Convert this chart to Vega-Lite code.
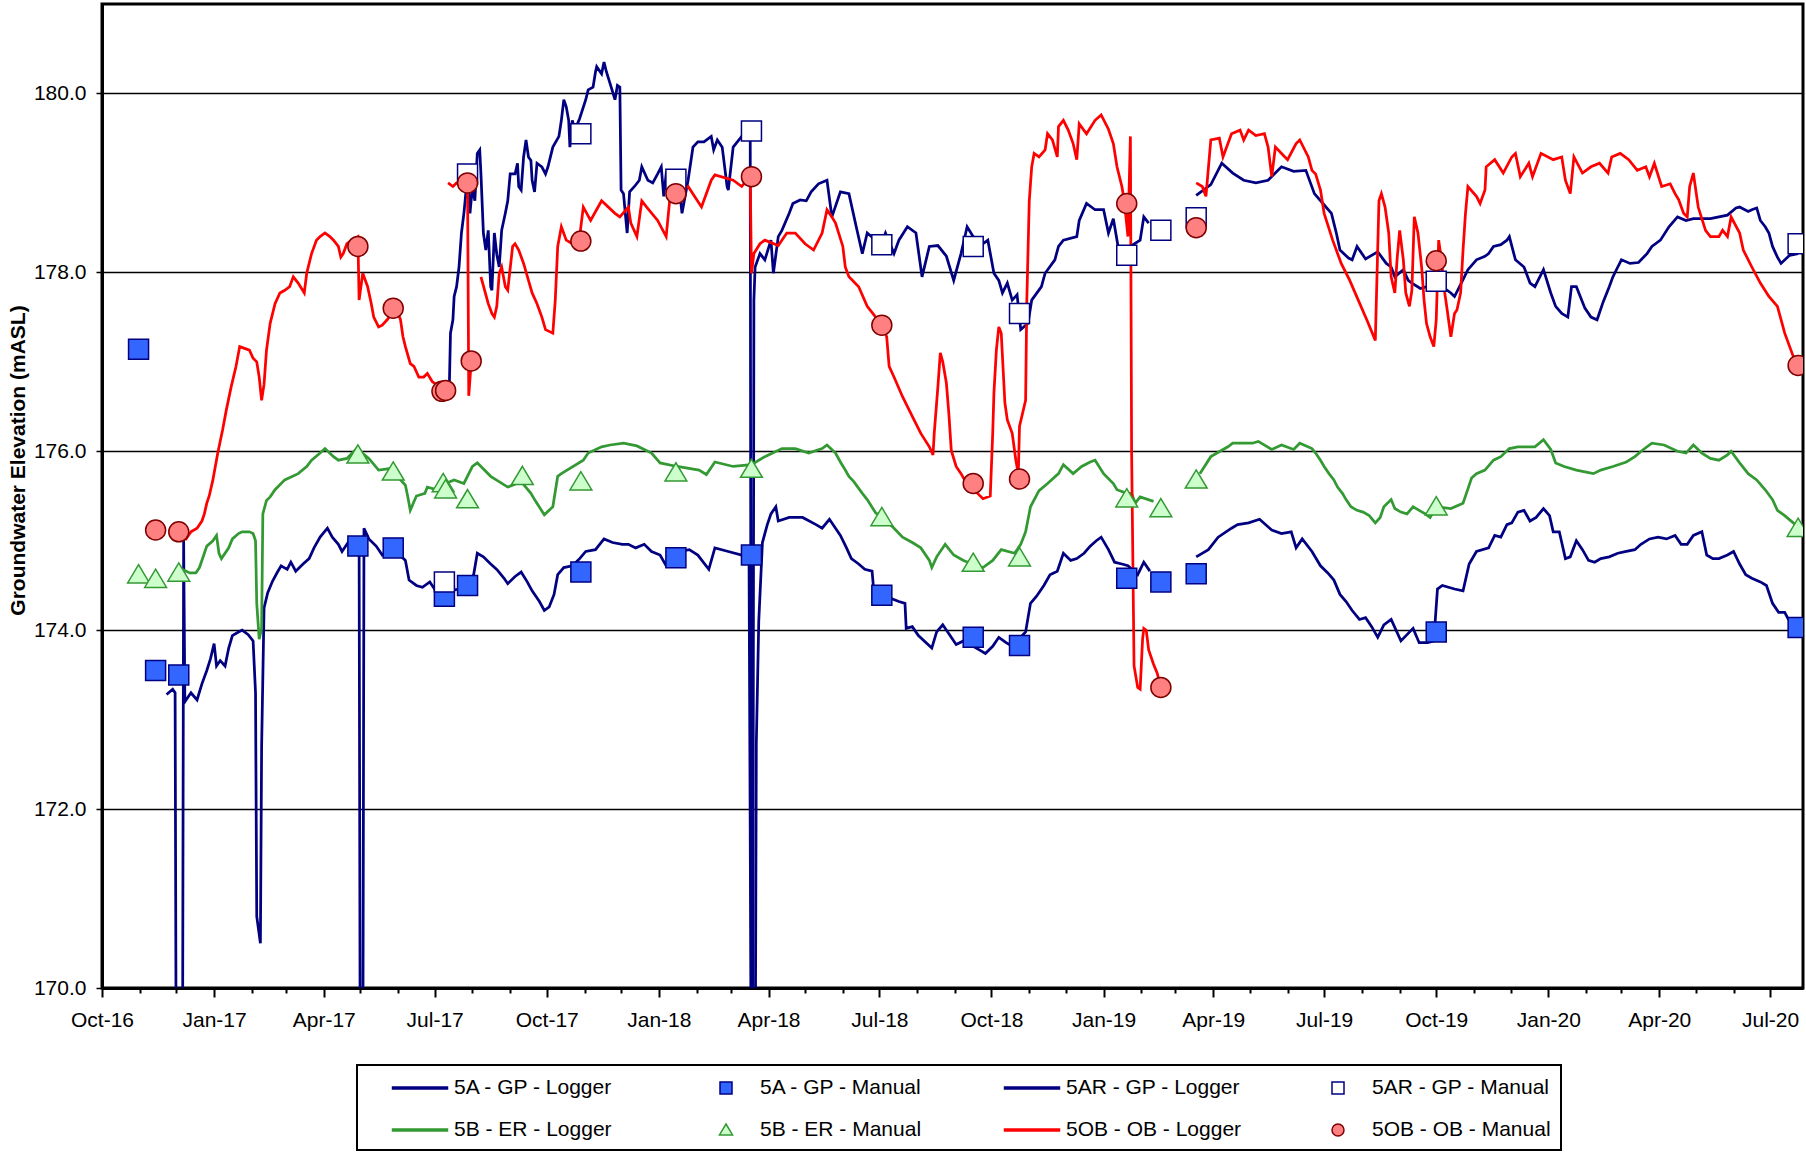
{
  "$schema": "https://vega.github.io/schema/vega-lite/v6.json",
  "width": 1701,
  "height": 984,
  "autosize": {"type": "none"},
  "padding": {"left": 102, "top": 4, "right": 3, "bottom": 170},
  "background": "white",
  "config": {
    "font": "Liberation Sans",
    "view": {"stroke": "black", "strokeWidth": 3},
    "legend": {"symbolFillColor": "white", "strokeWidth": 2}
  },
  "datasets": {
    "a5": [
      {"p":1,"d":"2016-11-23","v":173.28},{"p":1,"d":"2016-11-28","v":173.34},{"p":1,"d":"2016-11-30","v":173.3},{"p":1,"d":"2016-12-01","v":168.5},{"p":1,"d":"2016-12-06","v":168.5},{"p":1,"d":"2016-12-07","v":175.0},{"p":1,"d":"2016-12-08","v":173.2},{"p":1,"d":"2016-12-13","v":173.3},{"p":1,"d":"2016-12-18","v":173.22},{"p":1,"d":"2016-12-22","v":173.4},{"p":1,"d":"2016-12-26","v":173.55},{"p":1,"d":"2016-12-29","v":173.68},
      {"p":1,"d":"2017-01-01","v":173.85},{"p":1,"d":"2017-01-03","v":173.6},{"p":1,"d":"2017-01-06","v":173.66},{"p":1,"d":"2017-01-10","v":173.6},{"p":1,"d":"2017-01-13","v":173.8},{"p":1,"d":"2017-01-16","v":173.94},{"p":1,"d":"2017-01-21","v":173.98},{"p":1,"d":"2017-01-24","v":174.0},{"p":1,"d":"2017-01-29","v":173.95},{"p":1,"d":"2017-02-02","v":173.88},{"p":1,"d":"2017-02-04","v":173.3},{"p":1,"d":"2017-02-05","v":170.8},{"p":1,"d":"2017-02-08","v":170.5},{"p":1,"d":"2017-02-09","v":172.7},{"p":1,"d":"2017-02-11","v":174.25},{"p":1,"d":"2017-02-14","v":174.42},{"p":1,"d":"2017-02-18","v":174.55},{"p":1,"d":"2017-02-22","v":174.65},{"p":1,"d":"2017-02-25","v":174.72},
      {"p":1,"d":"2017-03-02","v":174.68},{"p":1,"d":"2017-03-05","v":174.76},{"p":1,"d":"2017-03-09","v":174.66},{"p":1,"d":"2017-03-15","v":174.74},{"p":1,"d":"2017-03-20","v":174.8},{"p":1,"d":"2017-03-24","v":174.92},{"p":1,"d":"2017-03-29","v":175.04},{"p":1,"d":"2017-04-04","v":175.14},{"p":1,"d":"2017-04-08","v":175.04},{"p":1,"d":"2017-04-13","v":174.96},{"p":1,"d":"2017-04-16","v":174.88},{"p":1,"d":"2017-04-20","v":174.96},{"p":1,"d":"2017-04-23","v":175.02},{"p":1,"d":"2017-04-27","v":174.96},{"p":1,"d":"2017-04-30","v":175.0},{"p":1,"d":"2017-05-01","v":168.5},{"p":1,"d":"2017-05-03","v":168.5},{"p":1,"d":"2017-05-04","v":175.14},{"p":1,"d":"2017-05-08","v":175.02},{"p":1,"d":"2017-05-14","v":174.94},{"p":1,"d":"2017-05-19","v":174.84},{"p":1,"d":"2017-05-25","v":174.9},
      {"p":1,"d":"2017-06-01","v":174.86},{"p":1,"d":"2017-06-07","v":174.78},{"p":1,"d":"2017-06-10","v":174.56},{"p":1,"d":"2017-06-16","v":174.5},{"p":1,"d":"2017-06-21","v":174.48},{"p":1,"d":"2017-06-27","v":174.54},{"p":1,"d":"2017-07-03","v":174.42},{"p":1,"d":"2017-07-08","v":174.5},{"p":1,"d":"2017-07-14","v":174.44},{"p":1,"d":"2017-07-21","v":174.46},{"p":1,"d":"2017-07-28","v":174.5},{"p":1,"d":"2017-08-02","v":174.62},{"p":1,"d":"2017-08-05","v":174.86},{"p":1,"d":"2017-08-10","v":174.82},{"p":1,"d":"2017-08-16","v":174.74},{"p":1,"d":"2017-08-21","v":174.68},{"p":1,"d":"2017-08-27","v":174.58},{"p":1,"d":"2017-08-30","v":174.52},
      {"p":1,"d":"2017-09-05","v":174.6},{"p":1,"d":"2017-09-10","v":174.65},{"p":1,"d":"2017-09-15","v":174.54},{"p":1,"d":"2017-09-19","v":174.44},{"p":1,"d":"2017-09-25","v":174.32},{"p":1,"d":"2017-09-29","v":174.22},{"p":1,"d":"2017-10-03","v":174.26},{"p":1,"d":"2017-10-07","v":174.4},{"p":1,"d":"2017-10-10","v":174.62},{"p":1,"d":"2017-10-15","v":174.7},{"p":1,"d":"2017-10-22","v":174.72},{"p":1,"d":"2017-10-28","v":174.8},{"p":1,"d":"2017-11-02","v":174.88},{"p":1,"d":"2017-11-10","v":174.9},{"p":1,"d":"2017-11-17","v":175.02},{"p":1,"d":"2017-11-24","v":174.98},{"p":1,"d":"2017-12-02","v":174.96},{"p":1,"d":"2017-12-07","v":174.96},{"p":1,"d":"2017-12-13","v":174.92},{"p":1,"d":"2017-12-20","v":174.96},{"p":1,"d":"2017-12-26","v":174.88},
      {"p":1,"d":"2018-01-02","v":174.84},{"p":1,"d":"2018-01-07","v":174.72},{"p":1,"d":"2018-01-13","v":174.76},{"p":1,"d":"2018-01-18","v":174.88},{"p":1,"d":"2018-01-26","v":174.9},{"p":1,"d":"2018-02-02","v":174.84},{"p":1,"d":"2018-02-11","v":174.68},{"p":1,"d":"2018-02-16","v":174.92},{"p":1,"d":"2018-02-27","v":174.88},{"p":1,"d":"2018-03-10","v":174.84},{"p":1,"d":"2018-03-16","v":174.84},{"p":1,"d":"2018-03-18","v":168.5},{"p":1,"d":"2018-03-21","v":168.5},{"p":1,"d":"2018-03-22","v":172.74},{"p":1,"d":"2018-03-24","v":174.1},{"p":1,"d":"2018-03-27","v":174.98},{"p":1,"d":"2018-03-31","v":175.18},{"p":1,"d":"2018-04-03","v":175.3},{"p":1,"d":"2018-04-07","v":175.38},{"p":1,"d":"2018-04-09","v":175.22},{"p":1,"d":"2018-04-18","v":175.26},{"p":1,"d":"2018-04-29","v":175.26},{"p":1,"d":"2018-05-10","v":175.18},{"p":1,"d":"2018-05-15","v":175.14},{"p":1,"d":"2018-05-21","v":175.24},{"p":1,"d":"2018-05-30","v":175.06},
      {"p":1,"d":"2018-06-04","v":174.92},{"p":1,"d":"2018-06-08","v":174.8},{"p":1,"d":"2018-06-14","v":174.74},{"p":1,"d":"2018-06-19","v":174.68},{"p":1,"d":"2018-06-25","v":174.66},{"p":1,"d":"2018-06-26","v":174.5},{"p":1,"d":"2018-07-06","v":174.38},{"p":1,"d":"2018-07-17","v":174.32},{"p":1,"d":"2018-07-22","v":174.3},{"p":1,"d":"2018-07-23","v":174.02},{"p":1,"d":"2018-07-28","v":174.04},{"p":1,"d":"2018-08-02","v":173.94},{"p":1,"d":"2018-08-13","v":173.8},{"p":1,"d":"2018-08-17","v":173.98},{"p":1,"d":"2018-08-22","v":174.06},{"p":1,"d":"2018-08-28","v":173.94},{"p":1,"d":"2018-09-02","v":173.84},{"p":1,"d":"2018-09-08","v":173.88},{"p":1,"d":"2018-09-21","v":173.78},{"p":1,"d":"2018-09-26","v":173.74},{"p":1,"d":"2018-10-02","v":173.82},{"p":1,"d":"2018-10-07","v":173.92},{"p":1,"d":"2018-10-13","v":173.86},{"p":1,"d":"2018-10-18","v":173.82},{"p":1,"d":"2018-10-29","v":173.98},
      {"p":1,"d":"2018-11-02","v":174.3},{"p":1,"d":"2018-11-07","v":174.38},{"p":1,"d":"2018-11-13","v":174.5},{"p":1,"d":"2018-11-18","v":174.62},{"p":1,"d":"2018-11-24","v":174.66},{"p":1,"d":"2018-11-29","v":174.86},{"p":1,"d":"2018-12-05","v":174.78},{"p":1,"d":"2018-12-10","v":174.8},{"p":1,"d":"2018-12-16","v":174.86},{"p":1,"d":"2018-12-21","v":174.94},{"p":1,"d":"2018-12-26","v":175.0},{"p":1,"d":"2018-12-30","v":175.04},{"p":1,"d":"2019-01-05","v":174.9},{"p":1,"d":"2019-01-10","v":174.76},{"p":1,"d":"2019-01-16","v":174.74},{"p":1,"d":"2019-01-21","v":174.72},{"p":1,"d":"2019-01-29","v":174.62},{"p":1,"d":"2019-02-03","v":174.76},{"p":1,"d":"2019-02-08","v":174.66},
      {"p":2,"d":"2019-03-18","v":174.82},{"p":2,"d":"2019-03-28","v":174.9},{"p":2,"d":"2019-04-05","v":175.04},{"p":2,"d":"2019-04-16","v":175.14},{"p":2,"d":"2019-04-21","v":175.18},{"p":2,"d":"2019-04-30","v":175.2},{"p":2,"d":"2019-05-09","v":175.24},{"p":2,"d":"2019-05-19","v":175.12},{"p":2,"d":"2019-05-27","v":175.08},{"p":2,"d":"2019-06-04","v":175.1},{"p":2,"d":"2019-06-08","v":174.92},{"p":2,"d":"2019-06-13","v":175.02},{"p":2,"d":"2019-06-21","v":174.88},{"p":2,"d":"2019-06-28","v":174.72},{"p":2,"d":"2019-07-04","v":174.64},{"p":2,"d":"2019-07-09","v":174.56},{"p":2,"d":"2019-07-14","v":174.4},{"p":2,"d":"2019-07-19","v":174.32},{"p":2,"d":"2019-07-24","v":174.22},{"p":2,"d":"2019-07-30","v":174.12},{"p":2,"d":"2019-08-04","v":174.14},{"p":2,"d":"2019-08-09","v":174.04},{"p":2,"d":"2019-08-14","v":173.92},{"p":2,"d":"2019-08-19","v":174.06},{"p":2,"d":"2019-08-25","v":174.12},{"p":2,"d":"2019-09-02","v":173.88},{"p":2,"d":"2019-09-12","v":174.02},{"p":2,"d":"2019-09-17","v":173.86},{"p":2,"d":"2019-09-24","v":173.86},{"p":2,"d":"2019-09-29","v":173.88},
      {"p":2,"d":"2019-10-02","v":174.46},{"p":2,"d":"2019-10-06","v":174.5},{"p":2,"d":"2019-10-16","v":174.46},{"p":2,"d":"2019-10-23","v":174.44},{"p":2,"d":"2019-10-28","v":174.74},{"p":2,"d":"2019-11-03","v":174.88},{"p":2,"d":"2019-11-13","v":174.92},{"p":2,"d":"2019-11-18","v":175.06},{"p":2,"d":"2019-11-23","v":175.04},{"p":2,"d":"2019-11-28","v":175.18},{"p":2,"d":"2019-12-02","v":175.2},{"p":2,"d":"2019-12-07","v":175.32},{"p":2,"d":"2019-12-12","v":175.34},{"p":2,"d":"2019-12-17","v":175.22},{"p":2,"d":"2019-12-22","v":175.26},{"p":2,"d":"2019-12-28","v":175.36},{"p":2,"d":"2020-01-02","v":175.28},{"p":2,"d":"2020-01-05","v":175.1},{"p":2,"d":"2020-01-10","v":175.1},{"p":2,"d":"2020-01-15","v":174.8},{"p":2,"d":"2020-01-19","v":174.82},{"p":2,"d":"2020-01-24","v":175.0},{"p":2,"d":"2020-01-29","v":174.9},{"p":2,"d":"2020-02-03","v":174.78},{"p":2,"d":"2020-02-08","v":174.76},{"p":2,"d":"2020-02-13","v":174.8},{"p":2,"d":"2020-02-20","v":174.82},{"p":2,"d":"2020-02-27","v":174.86},
      {"p":2,"d":"2020-03-05","v":174.88},{"p":2,"d":"2020-03-12","v":174.9},{"p":2,"d":"2020-03-17","v":174.96},{"p":2,"d":"2020-03-24","v":175.02},{"p":2,"d":"2020-03-31","v":175.04},{"p":2,"d":"2020-04-07","v":175.02},{"p":2,"d":"2020-04-14","v":175.06},{"p":2,"d":"2020-04-19","v":174.96},{"p":2,"d":"2020-04-24","v":174.96},{"p":2,"d":"2020-04-29","v":175.06},{"p":2,"d":"2020-05-06","v":175.1},{"p":2,"d":"2020-05-10","v":174.84},{"p":2,"d":"2020-05-15","v":174.8},{"p":2,"d":"2020-05-20","v":174.8},{"p":2,"d":"2020-05-27","v":174.84},{"p":2,"d":"2020-06-01","v":174.88},{"p":2,"d":"2020-06-06","v":174.74},{"p":2,"d":"2020-06-11","v":174.62},{"p":2,"d":"2020-06-16","v":174.58},{"p":2,"d":"2020-06-23","v":174.54},{"p":2,"d":"2020-06-28","v":174.5},{"p":2,"d":"2020-07-03","v":174.3},{"p":2,"d":"2020-07-08","v":174.2},{"p":2,"d":"2020-07-13","v":174.2},{"p":2,"d":"2020-07-16","v":174.12},{"p":2,"d":"2020-07-23","v":174.04}
    ],
    "ar5": [
      {"p":1,"d":"2017-07-13","v":176.69},{"p":1,"d":"2017-07-14","v":177.32},{"p":1,"d":"2017-07-16","v":177.47},{"p":1,"d":"2017-07-17","v":177.73},{"p":1,"d":"2017-07-19","v":177.84},{"p":1,"d":"2017-07-21","v":178.06},{"p":1,"d":"2017-07-23","v":178.44},{"p":1,"d":"2017-07-25","v":178.66},{"p":1,"d":"2017-07-26","v":178.8},{"p":1,"d":"2017-07-28","v":179.1},{"p":1,"d":"2017-07-30","v":178.66},{"p":1,"d":"2017-08-01","v":178.96},{"p":1,"d":"2017-08-03","v":178.8},{"p":1,"d":"2017-08-05","v":179.33},{"p":1,"d":"2017-08-07","v":179.37},{"p":1,"d":"2017-08-08","v":179.1},{"p":1,"d":"2017-08-10","v":178.44},{"p":1,"d":"2017-08-12","v":178.25},{"p":1,"d":"2017-08-14","v":178.47},{"p":1,"d":"2017-08-16","v":177.84},{"p":1,"d":"2017-08-17","v":177.8},{"p":1,"d":"2017-08-19","v":178.44},{"p":1,"d":"2017-08-21","v":178.2},{"p":1,"d":"2017-08-23","v":178.06},{"p":1,"d":"2017-08-25","v":178.47},{"p":1,"d":"2017-08-28","v":178.66},{"p":1,"d":"2017-08-30","v":178.8},
      {"p":1,"d":"2017-09-01","v":179.1},{"p":1,"d":"2017-09-05","v":179.1},{"p":1,"d":"2017-09-07","v":179.22},{"p":1,"d":"2017-09-08","v":178.96},{"p":1,"d":"2017-09-10","v":178.92},{"p":1,"d":"2017-09-12","v":179.29},{"p":1,"d":"2017-09-14","v":179.48},{"p":1,"d":"2017-09-16","v":179.29},{"p":1,"d":"2017-09-18","v":179.25},{"p":1,"d":"2017-09-19","v":179.03},{"p":1,"d":"2017-09-21","v":178.9},{"p":1,"d":"2017-09-23","v":179.22},{"p":1,"d":"2017-09-27","v":179.18},{"p":1,"d":"2017-09-30","v":179.1},{"p":1,"d":"2017-10-02","v":179.18},{"p":1,"d":"2017-10-06","v":179.4},{"p":1,"d":"2017-10-11","v":179.52},{"p":1,"d":"2017-10-13","v":179.7},{"p":1,"d":"2017-10-15","v":179.93},{"p":1,"d":"2017-10-17","v":179.85},{"p":1,"d":"2017-10-19","v":179.7},{"p":1,"d":"2017-10-20","v":179.4},{"p":1,"d":"2017-10-22","v":179.7},{"p":1,"d":"2017-10-24","v":179.59},{"p":1,"d":"2017-10-28","v":179.72},
      {"p":1,"d":"2017-11-02","v":179.93},{"p":1,"d":"2017-11-04","v":180.04},{"p":1,"d":"2017-11-08","v":180.07},{"p":1,"d":"2017-11-10","v":180.24},{"p":1,"d":"2017-11-11","v":180.3},{"p":1,"d":"2017-11-15","v":180.22},{"p":1,"d":"2017-11-17","v":180.35},{"p":1,"d":"2017-11-19","v":180.24},{"p":1,"d":"2017-11-22","v":180.11},{"p":1,"d":"2017-11-26","v":179.93},{"p":1,"d":"2017-11-28","v":180.09},{"p":1,"d":"2017-11-30","v":180.07},{"p":1,"d":"2017-12-01","v":178.92},{"p":1,"d":"2017-12-03","v":178.88},{"p":1,"d":"2017-12-04","v":178.73},{"p":1,"d":"2017-12-06","v":178.44},{"p":1,"d":"2017-12-08","v":178.9},{"p":1,"d":"2017-12-12","v":178.96},{"p":1,"d":"2017-12-16","v":179.03},{"p":1,"d":"2017-12-18","v":179.18},{"p":1,"d":"2017-12-23","v":179.03},{"p":1,"d":"2017-12-27","v":179.0},{"p":1,"d":"2017-12-31","v":179.1},
      {"p":1,"d":"2018-01-03","v":179.18},{"p":1,"d":"2018-01-05","v":178.85},{"p":1,"d":"2018-01-07","v":179.1},{"p":1,"d":"2018-01-12","v":179.03},{"p":1,"d":"2018-01-18","v":178.92},{"p":1,"d":"2018-01-20","v":178.66},{"p":1,"d":"2018-01-25","v":179.03},{"p":1,"d":"2018-01-29","v":179.4},{"p":1,"d":"2018-02-02","v":179.46},{"p":1,"d":"2018-02-07","v":179.46},{"p":1,"d":"2018-02-13","v":179.52},{"p":1,"d":"2018-02-15","v":179.37},{"p":1,"d":"2018-02-18","v":179.48},{"p":1,"d":"2018-02-22","v":179.4},{"p":1,"d":"2018-02-26","v":178.96},{"p":1,"d":"2018-02-27","v":178.92},{"p":1,"d":"2018-03-03","v":179.4},{"p":1,"d":"2018-03-10","v":179.52},{"p":1,"d":"2018-03-17","v":179.48},{"p":1,"d":"2018-03-18","v":168.5},{"p":1,"d":"2018-03-19","v":168.5},{"p":1,"d":"2018-03-20","v":177.69},{"p":1,"d":"2018-03-21","v":178.06},{"p":1,"d":"2018-03-25","v":178.21},{"p":1,"d":"2018-03-29","v":178.14},
      {"p":1,"d":"2018-04-03","v":178.36},{"p":1,"d":"2018-04-05","v":177.99},{"p":1,"d":"2018-04-09","v":178.4},{"p":1,"d":"2018-04-12","v":178.47},{"p":1,"d":"2018-04-18","v":178.66},{"p":1,"d":"2018-04-21","v":178.77},{"p":1,"d":"2018-04-27","v":178.81},{"p":1,"d":"2018-05-02","v":178.8},{"p":1,"d":"2018-05-06","v":178.9},{"p":1,"d":"2018-05-12","v":178.99},{"p":1,"d":"2018-05-19","v":179.03},{"p":1,"d":"2018-05-23","v":178.62},{"p":1,"d":"2018-05-30","v":178.9},{"p":1,"d":"2018-06-06","v":178.88},{"p":1,"d":"2018-06-12","v":178.51},{"p":1,"d":"2018-06-17","v":178.21},{"p":1,"d":"2018-06-21","v":178.44},{"p":1,"d":"2018-06-28","v":178.36},{"p":1,"d":"2018-07-02","v":178.29},{"p":1,"d":"2018-07-06","v":178.44},{"p":1,"d":"2018-07-13","v":178.21},{"p":1,"d":"2018-07-17","v":178.36},{"p":1,"d":"2018-07-24","v":178.51},{"p":1,"d":"2018-07-31","v":178.44},
      {"p":1,"d":"2018-08-05","v":177.95},{"p":1,"d":"2018-08-11","v":178.29},{"p":1,"d":"2018-08-18","v":178.3},{"p":1,"d":"2018-08-25","v":178.18},{"p":1,"d":"2018-08-31","v":177.91},{"p":1,"d":"2018-09-06","v":178.21},{"p":1,"d":"2018-09-11","v":178.51},{"p":1,"d":"2018-09-21","v":178.29},{"p":1,"d":"2018-09-28","v":178.36},{"p":1,"d":"2018-10-03","v":177.99},{"p":1,"d":"2018-10-07","v":177.91},{"p":1,"d":"2018-10-10","v":177.77},{"p":1,"d":"2018-10-14","v":177.88},{"p":1,"d":"2018-10-18","v":177.69},{"p":1,"d":"2018-10-22","v":177.75},{"p":1,"d":"2018-10-25","v":177.36},{"p":1,"d":"2018-10-31","v":177.43},{"p":1,"d":"2018-11-03","v":177.69},{"p":1,"d":"2018-11-11","v":177.84},{"p":1,"d":"2018-11-14","v":177.99},{"p":1,"d":"2018-11-22","v":178.14},{"p":1,"d":"2018-11-25","v":178.29},{"p":1,"d":"2018-11-29","v":178.36},
      {"p":1,"d":"2018-12-10","v":178.4},{"p":1,"d":"2018-12-12","v":178.58},{"p":1,"d":"2018-12-18","v":178.77},{"p":1,"d":"2018-12-25","v":178.7},{"p":1,"d":"2019-01-01","v":178.7},{"p":1,"d":"2019-01-05","v":178.44},{"p":1,"d":"2019-01-09","v":178.6},{"p":1,"d":"2019-01-14","v":178.2},{"p":1,"d":"2019-01-18","v":178.21},{"p":1,"d":"2019-01-24","v":178.3},{"p":1,"d":"2019-01-31","v":178.36},{"p":1,"d":"2019-02-03","v":178.62},{"p":1,"d":"2019-02-07","v":178.55},
      {"p":2,"d":"2019-03-18","v":178.86},{"p":2,"d":"2019-03-30","v":178.98},{"p":2,"d":"2019-04-08","v":179.22},{"p":2,"d":"2019-04-17","v":179.11},{"p":2,"d":"2019-04-26","v":179.03},{"p":2,"d":"2019-05-06","v":179.0},{"p":2,"d":"2019-05-16","v":179.03},{"p":2,"d":"2019-05-27","v":179.18},{"p":2,"d":"2019-06-06","v":179.13},{"p":2,"d":"2019-06-16","v":179.14},{"p":2,"d":"2019-06-23","v":178.88},{"p":2,"d":"2019-06-30","v":178.77},{"p":2,"d":"2019-07-07","v":178.66},{"p":2,"d":"2019-07-11","v":178.44},{"p":2,"d":"2019-07-14","v":178.25},{"p":2,"d":"2019-07-21","v":178.16},{"p":2,"d":"2019-07-24","v":178.14},{"p":2,"d":"2019-07-28","v":178.29},{"p":2,"d":"2019-08-04","v":178.15},{"p":2,"d":"2019-08-14","v":178.23},{"p":2,"d":"2019-08-21","v":178.1},{"p":2,"d":"2019-08-25","v":178.06},{"p":2,"d":"2019-08-28","v":177.95},
      {"p":2,"d":"2019-09-04","v":178.03},{"p":2,"d":"2019-09-08","v":177.91},{"p":2,"d":"2019-09-11","v":177.88},{"p":2,"d":"2019-09-18","v":177.82},{"p":2,"d":"2019-09-28","v":177.86},{"p":2,"d":"2019-10-06","v":177.84},{"p":2,"d":"2019-10-13","v":177.77},{"p":2,"d":"2019-10-16","v":177.73},{"p":2,"d":"2019-10-23","v":177.92},{"p":2,"d":"2019-10-27","v":178.03},{"p":2,"d":"2019-11-03","v":178.14},{"p":2,"d":"2019-11-10","v":178.18},{"p":2,"d":"2019-11-13","v":178.21},{"p":2,"d":"2019-11-17","v":178.29},{"p":2,"d":"2019-11-23","v":178.31},{"p":2,"d":"2019-11-28","v":178.36},{"p":2,"d":"2019-11-30","v":178.4},{"p":2,"d":"2019-12-05","v":178.14},{"p":2,"d":"2019-12-12","v":178.06},{"p":2,"d":"2019-12-17","v":177.88},{"p":2,"d":"2019-12-21","v":177.84},{"p":2,"d":"2019-12-28","v":178.03},
      {"p":2,"d":"2020-01-03","v":177.77},{"p":2,"d":"2020-01-07","v":177.62},{"p":2,"d":"2020-01-12","v":177.54},{"p":2,"d":"2020-01-17","v":177.5},{"p":2,"d":"2020-01-20","v":177.84},{"p":2,"d":"2020-01-24","v":177.84},{"p":2,"d":"2020-01-31","v":177.6},{"p":2,"d":"2020-02-05","v":177.5},{"p":2,"d":"2020-02-10","v":177.47},{"p":2,"d":"2020-02-15","v":177.67},{"p":2,"d":"2020-02-20","v":177.84},{"p":2,"d":"2020-02-23","v":177.95},{"p":2,"d":"2020-02-27","v":178.06},{"p":2,"d":"2020-03-01","v":178.14},{"p":2,"d":"2020-03-08","v":178.1},{"p":2,"d":"2020-03-15","v":178.11},{"p":2,"d":"2020-03-22","v":178.21},{"p":2,"d":"2020-03-26","v":178.29},{"p":2,"d":"2020-04-02","v":178.36},{"p":2,"d":"2020-04-09","v":178.51},{"p":2,"d":"2020-04-16","v":178.62},{"p":2,"d":"2020-04-23","v":178.58},{"p":2,"d":"2020-04-29","v":178.6},
      {"p":2,"d":"2020-05-06","v":178.6},{"p":2,"d":"2020-05-13","v":178.6},{"p":2,"d":"2020-05-20","v":178.62},{"p":2,"d":"2020-05-27","v":178.64},{"p":2,"d":"2020-06-03","v":178.72},{"p":2,"d":"2020-06-06","v":178.73},{"p":2,"d":"2020-06-13","v":178.68},{"p":2,"d":"2020-06-16","v":178.7},{"p":2,"d":"2020-06-20","v":178.72},{"p":2,"d":"2020-06-23","v":178.58},{"p":2,"d":"2020-06-27","v":178.51},{"p":2,"d":"2020-06-30","v":178.44},{"p":2,"d":"2020-07-03","v":178.29},{"p":2,"d":"2020-07-07","v":178.17},{"p":2,"d":"2020-07-10","v":178.1},{"p":2,"d":"2020-07-17","v":178.19},{"p":2,"d":"2020-07-24","v":178.21}
    ],
    "b5": [
      {"p":1,"d":"2016-12-02","v":174.62},{"p":1,"d":"2016-12-06","v":174.68},{"p":1,"d":"2016-12-12","v":174.64},{"p":1,"d":"2016-12-17","v":174.64},{"p":1,"d":"2016-12-20","v":174.7},{"p":1,"d":"2016-12-24","v":174.86},{"p":1,"d":"2016-12-26","v":174.94},{"p":1,"d":"2016-12-31","v":175.0},{"p":1,"d":"2017-01-03","v":175.06},{"p":1,"d":"2017-01-05","v":174.86},{"p":1,"d":"2017-01-07","v":174.8},{"p":1,"d":"2017-01-13","v":174.92},{"p":1,"d":"2017-01-16","v":175.02},{"p":1,"d":"2017-01-21","v":175.08},{"p":1,"d":"2017-01-24","v":175.1},{"p":1,"d":"2017-01-30","v":175.1},{"p":1,"d":"2017-02-02","v":175.08},{"p":1,"d":"2017-02-04","v":175.0},{"p":1,"d":"2017-02-05","v":174.3},{"p":1,"d":"2017-02-07","v":173.9},{"p":1,"d":"2017-02-09","v":174.02},{"p":1,"d":"2017-02-10","v":175.3},{"p":1,"d":"2017-02-13","v":175.45},{"p":1,"d":"2017-02-16","v":175.49},{"p":1,"d":"2017-02-20","v":175.57},{"p":1,"d":"2017-02-28","v":175.68},
      {"p":1,"d":"2017-03-11","v":175.75},{"p":1,"d":"2017-03-18","v":175.83},{"p":1,"d":"2017-03-22","v":175.9},{"p":1,"d":"2017-03-29","v":175.98},{"p":1,"d":"2017-04-02","v":176.03},{"p":1,"d":"2017-04-09","v":175.94},{"p":1,"d":"2017-04-13","v":175.9},{"p":1,"d":"2017-04-20","v":175.92},{"p":1,"d":"2017-04-28","v":176.03},{"p":1,"d":"2017-05-08","v":175.92},{"p":1,"d":"2017-05-16","v":175.79},{"p":1,"d":"2017-05-27","v":175.81},{"p":1,"d":"2017-06-03","v":175.68},{"p":1,"d":"2017-06-07","v":175.62},{"p":1,"d":"2017-06-09","v":175.49},{"p":1,"d":"2017-06-11","v":175.34},{"p":1,"d":"2017-06-16","v":175.5},{"p":1,"d":"2017-06-23","v":175.53},{"p":1,"d":"2017-06-25","v":175.6},{"p":1,"d":"2017-07-03","v":175.57},{"p":1,"d":"2017-07-10","v":175.64},{"p":1,"d":"2017-07-17","v":175.68},{"p":1,"d":"2017-07-25","v":175.64},
      {"p":1,"d":"2017-08-01","v":175.83},{"p":1,"d":"2017-08-05","v":175.87},{"p":1,"d":"2017-08-16","v":175.72},{"p":1,"d":"2017-08-30","v":175.6},{"p":1,"d":"2017-09-10","v":175.66},{"p":1,"d":"2017-09-18","v":175.53},{"p":1,"d":"2017-09-21","v":175.46},{"p":1,"d":"2017-09-29","v":175.29},{"p":1,"d":"2017-10-06","v":175.38},{"p":1,"d":"2017-10-10","v":175.72},{"p":1,"d":"2017-10-13","v":175.75},{"p":1,"d":"2017-10-31","v":175.9},{"p":1,"d":"2017-11-04","v":175.98},{"p":1,"d":"2017-11-15","v":176.05},{"p":1,"d":"2017-11-22","v":176.07},{"p":1,"d":"2017-12-03","v":176.09},{"p":1,"d":"2017-12-14","v":176.06},{"p":1,"d":"2017-12-26","v":175.98},{"p":1,"d":"2018-01-02","v":175.87},{"p":1,"d":"2018-01-16","v":175.83},{"p":1,"d":"2018-02-03","v":175.79},{"p":1,"d":"2018-02-09","v":175.74},{"p":1,"d":"2018-02-16","v":175.88},
      {"p":1,"d":"2018-03-03","v":175.83},{"p":1,"d":"2018-03-18","v":175.85},{"p":1,"d":"2018-03-29","v":175.94},{"p":1,"d":"2018-04-12","v":176.03},{"p":1,"d":"2018-04-23","v":176.03},{"p":1,"d":"2018-05-04","v":175.98},{"p":1,"d":"2018-05-15","v":176.03},{"p":1,"d":"2018-05-19","v":176.07},{"p":1,"d":"2018-05-26","v":175.98},{"p":1,"d":"2018-05-30","v":175.88},{"p":1,"d":"2018-06-03","v":175.79},{"p":1,"d":"2018-06-06","v":175.72},{"p":1,"d":"2018-06-10","v":175.66},{"p":1,"d":"2018-06-17","v":175.53},{"p":1,"d":"2018-06-21","v":175.46},{"p":1,"d":"2018-06-28","v":175.31},{"p":1,"d":"2018-07-03","v":175.27},{"p":1,"d":"2018-07-07","v":175.22},{"p":1,"d":"2018-07-13","v":175.14},{"p":1,"d":"2018-07-20","v":175.04},{"p":1,"d":"2018-07-28","v":174.98},
      {"p":1,"d":"2018-08-04","v":174.92},{"p":1,"d":"2018-08-11","v":174.78},{"p":1,"d":"2018-08-13","v":174.7},{"p":1,"d":"2018-08-17","v":174.82},{"p":1,"d":"2018-08-24","v":174.96},{"p":1,"d":"2018-08-31","v":174.84},{"p":1,"d":"2018-09-08","v":174.78},{"p":1,"d":"2018-09-19","v":174.72},{"p":1,"d":"2018-09-24","v":174.7},{"p":1,"d":"2018-10-02","v":174.78},{"p":1,"d":"2018-10-09","v":174.9},{"p":1,"d":"2018-10-20","v":174.86},{"p":1,"d":"2018-10-25","v":174.96},{"p":1,"d":"2018-10-29","v":175.1},{"p":1,"d":"2018-11-02","v":175.38},{"p":1,"d":"2018-11-09","v":175.56},{"p":1,"d":"2018-11-16","v":175.64},{"p":1,"d":"2018-11-25","v":175.75},{"p":1,"d":"2018-11-29","v":175.85},
      {"p":1,"d":"2018-12-07","v":175.75},{"p":1,"d":"2018-12-14","v":175.83},{"p":1,"d":"2018-12-21","v":175.88},{"p":1,"d":"2018-12-25","v":175.9},{"p":1,"d":"2019-01-01","v":175.75},{"p":1,"d":"2019-01-09","v":175.64},{"p":1,"d":"2019-01-12","v":175.57},{"p":1,"d":"2019-01-20","v":175.53},{"p":1,"d":"2019-01-24","v":175.53},{"p":1,"d":"2019-01-27","v":175.42},{"p":1,"d":"2019-01-31","v":175.49},{"p":1,"d":"2019-02-11","v":175.44},
      {"p":2,"d":"2019-03-21","v":175.75},{"p":2,"d":"2019-03-30","v":175.94},{"p":2,"d":"2019-04-13","v":176.05},{"p":2,"d":"2019-04-17","v":176.09},{"p":2,"d":"2019-05-03","v":176.09},{"p":2,"d":"2019-05-08","v":176.11},{"p":2,"d":"2019-05-19","v":176.02},{"p":2,"d":"2019-05-27","v":176.07},{"p":2,"d":"2019-06-06","v":176.02},{"p":2,"d":"2019-06-11","v":176.09},{"p":2,"d":"2019-06-21","v":176.03},{"p":2,"d":"2019-06-24","v":175.98},{"p":2,"d":"2019-06-28","v":175.9},{"p":2,"d":"2019-07-01","v":175.83},{"p":2,"d":"2019-07-05","v":175.75},{"p":2,"d":"2019-07-09","v":175.68},{"p":2,"d":"2019-07-12","v":175.6},{"p":2,"d":"2019-07-16","v":175.53},{"p":2,"d":"2019-07-19","v":175.46},{"p":2,"d":"2019-07-23","v":175.38},{"p":2,"d":"2019-07-28","v":175.34},
      {"p":2,"d":"2019-08-02","v":175.32},{"p":2,"d":"2019-08-07","v":175.28},{"p":2,"d":"2019-08-12","v":175.2},{"p":2,"d":"2019-08-16","v":175.26},{"p":2,"d":"2019-08-19","v":175.38},{"p":2,"d":"2019-08-25","v":175.46},{"p":2,"d":"2019-08-28","v":175.36},{"p":2,"d":"2019-09-02","v":175.32},{"p":2,"d":"2019-09-07","v":175.3},{"p":2,"d":"2019-09-12","v":175.38},{"p":2,"d":"2019-09-17","v":175.34},{"p":2,"d":"2019-09-22","v":175.3},{"p":2,"d":"2019-09-26","v":175.26},{"p":2,"d":"2019-10-01","v":175.38},{"p":2,"d":"2019-10-13","v":175.36},{"p":2,"d":"2019-10-23","v":175.42},{"p":2,"d":"2019-10-27","v":175.58},{"p":2,"d":"2019-10-30","v":175.7},{"p":2,"d":"2019-11-03","v":175.75},{"p":2,"d":"2019-11-10","v":175.79},{"p":2,"d":"2019-11-17","v":175.9},{"p":2,"d":"2019-11-23","v":175.94},{"p":2,"d":"2019-11-30","v":176.03},
      {"p":2,"d":"2019-12-07","v":176.05},{"p":2,"d":"2019-12-21","v":176.05},{"p":2,"d":"2019-12-28","v":176.13},{"p":2,"d":"2020-01-03","v":176.02},{"p":2,"d":"2020-01-07","v":175.87},{"p":2,"d":"2020-01-14","v":175.83},{"p":2,"d":"2020-01-24","v":175.79},{"p":2,"d":"2020-02-07","v":175.75},{"p":2,"d":"2020-02-13","v":175.79},{"p":2,"d":"2020-02-23","v":175.83},{"p":2,"d":"2020-03-05","v":175.88},{"p":2,"d":"2020-03-12","v":175.94},{"p":2,"d":"2020-03-19","v":176.02},{"p":2,"d":"2020-03-26","v":176.09},{"p":2,"d":"2020-04-05","v":176.07},{"p":2,"d":"2020-04-16","v":176.0},{"p":2,"d":"2020-04-23","v":175.98},{"p":2,"d":"2020-04-29","v":176.07},{"p":2,"d":"2020-05-06","v":175.98},{"p":2,"d":"2020-05-13","v":175.92},{"p":2,"d":"2020-05-20","v":175.9},{"p":2,"d":"2020-05-27","v":175.96},{"p":2,"d":"2020-05-30","v":176.0},
      {"p":2,"d":"2020-06-06","v":175.87},{"p":2,"d":"2020-06-13","v":175.75},{"p":2,"d":"2020-06-20","v":175.68},{"p":2,"d":"2020-06-27","v":175.57},{"p":2,"d":"2020-07-03","v":175.46},{"p":2,"d":"2020-07-07","v":175.34},{"p":2,"d":"2020-07-13","v":175.28},{"p":2,"d":"2020-07-20","v":175.2},{"p":2,"d":"2020-07-24","v":175.16}
    ],
    "ob5": [
      {"p":1,"d":"2016-12-04","v":175.06},{"p":1,"d":"2016-12-09","v":175.02},{"p":1,"d":"2016-12-13","v":175.1},{"p":1,"d":"2016-12-18","v":175.14},{"p":1,"d":"2016-12-22","v":175.22},{"p":1,"d":"2016-12-24","v":175.3},{"p":1,"d":"2016-12-26","v":175.42},{"p":1,"d":"2016-12-28","v":175.5},{"p":1,"d":"2016-12-31","v":175.68},{"p":1,"d":"2017-01-04","v":175.98},{"p":1,"d":"2017-01-08","v":176.24},{"p":1,"d":"2017-01-11","v":176.46},{"p":1,"d":"2017-01-15","v":176.72},{"p":1,"d":"2017-01-19","v":176.95},{"p":1,"d":"2017-01-22","v":177.17},{"p":1,"d":"2017-01-26","v":177.15},{"p":1,"d":"2017-01-30","v":177.13},{"p":1,"d":"2017-02-02","v":177.04},{"p":1,"d":"2017-02-05","v":177.0},{"p":1,"d":"2017-02-07","v":176.83},{"p":1,"d":"2017-02-09","v":176.57},{"p":1,"d":"2017-02-11","v":176.75},{"p":1,"d":"2017-02-13","v":177.13},{"p":1,"d":"2017-02-16","v":177.43},{"p":1,"d":"2017-02-20","v":177.65},{"p":1,"d":"2017-02-24","v":177.77},{"p":1,"d":"2017-02-28","v":177.8},
      {"p":1,"d":"2017-03-04","v":177.84},{"p":1,"d":"2017-03-07","v":177.95},{"p":1,"d":"2017-03-11","v":177.88},{"p":1,"d":"2017-03-16","v":177.77},{"p":1,"d":"2017-03-18","v":177.99},{"p":1,"d":"2017-03-22","v":178.21},{"p":1,"d":"2017-03-26","v":178.36},{"p":1,"d":"2017-03-29","v":178.4},{"p":1,"d":"2017-04-02","v":178.44},{"p":1,"d":"2017-04-06","v":178.4},{"p":1,"d":"2017-04-09","v":178.36},{"p":1,"d":"2017-04-13","v":178.29},{"p":1,"d":"2017-04-15","v":178.17},{"p":1,"d":"2017-04-17","v":178.21},{"p":1,"d":"2017-04-20","v":178.32},{"p":1,"d":"2017-04-24","v":178.36},{"p":1,"d":"2017-04-29","v":178.4},{"p":1,"d":"2017-04-30","v":177.69},{"p":1,"d":"2017-05-03","v":177.99},{"p":1,"d":"2017-05-07","v":177.84},{"p":1,"d":"2017-05-10","v":177.65},{"p":1,"d":"2017-05-12","v":177.5},{"p":1,"d":"2017-05-16","v":177.39},{"p":1,"d":"2017-05-19","v":177.41},{"p":1,"d":"2017-05-23","v":177.47},{"p":1,"d":"2017-05-27","v":177.54},{"p":1,"d":"2017-05-31","v":177.58},
      {"p":1,"d":"2017-06-03","v":177.47},{"p":1,"d":"2017-06-05","v":177.28},{"p":1,"d":"2017-06-07","v":177.17},{"p":1,"d":"2017-06-11","v":176.98},{"p":1,"d":"2017-06-14","v":176.95},{"p":1,"d":"2017-06-18","v":176.83},{"p":1,"d":"2017-06-22","v":176.83},{"p":1,"d":"2017-06-25","v":176.87},{"p":1,"d":"2017-06-29","v":176.78},{"p":1,"d":"2017-07-03","v":176.74},{"p":1,"d":"2017-07-10","v":176.69},
      {"p":2,"d":"2017-07-12","v":179.0},{"p":2,"d":"2017-07-16","v":178.96},{"p":2,"d":"2017-07-19","v":179.0},{"p":2,"d":"2017-07-26","v":179.0},{"p":2,"d":"2017-07-28","v":178.98},{"p":2,"d":"2017-07-29","v":176.62},{"p":2,"d":"2017-07-31","v":177.0},
      {"p":3,"d":"2017-08-08","v":177.95},{"p":3,"d":"2017-08-14","v":177.65},{"p":3,"d":"2017-08-17","v":177.54},{"p":3,"d":"2017-08-19","v":177.5},{"p":3,"d":"2017-08-21","v":177.62},{"p":3,"d":"2017-08-23","v":177.99},{"p":3,"d":"2017-08-25","v":178.06},{"p":3,"d":"2017-08-28","v":177.84},{"p":3,"d":"2017-08-30","v":177.8},{"p":3,"d":"2017-09-03","v":178.29},{"p":3,"d":"2017-09-05","v":178.32},{"p":3,"d":"2017-09-08","v":178.25},{"p":3,"d":"2017-09-12","v":178.1},{"p":3,"d":"2017-09-16","v":177.91},{"p":3,"d":"2017-09-19","v":177.77},{"p":3,"d":"2017-09-23","v":177.65},{"p":3,"d":"2017-09-27","v":177.5},{"p":3,"d":"2017-09-30","v":177.36},{"p":3,"d":"2017-10-06","v":177.32},{"p":3,"d":"2017-10-08","v":177.69},{"p":3,"d":"2017-10-10","v":178.29},{"p":3,"d":"2017-10-13","v":178.51},{"p":3,"d":"2017-10-17","v":178.36},{"p":3,"d":"2017-10-22","v":178.32},{"p":3,"d":"2017-10-28","v":178.4},{"p":3,"d":"2017-10-31","v":178.73},
      {"p":3,"d":"2017-11-06","v":178.58},{"p":3,"d":"2017-11-15","v":178.8},{"p":3,"d":"2017-11-26","v":178.66},{"p":3,"d":"2017-11-30","v":178.62},{"p":3,"d":"2017-12-07","v":178.73},{"p":3,"d":"2017-12-09","v":178.55},{"p":3,"d":"2017-12-14","v":178.4},{"p":3,"d":"2017-12-18","v":178.8},{"p":3,"d":"2017-12-22","v":178.73},{"p":3,"d":"2017-12-31","v":178.58},{"p":3,"d":"2018-01-07","v":178.4},{"p":3,"d":"2018-01-11","v":178.96},{"p":3,"d":"2018-01-16","v":178.88},{"p":3,"d":"2018-01-25","v":178.96},{"p":3,"d":"2018-02-05","v":178.73},{"p":3,"d":"2018-02-13","v":179.03},{"p":3,"d":"2018-02-16","v":179.09},{"p":3,"d":"2018-03-03","v":179.03},{"p":3,"d":"2018-03-10","v":178.96},{"p":3,"d":"2018-03-17","v":179.07},{"p":3,"d":"2018-03-18","v":177.99},{"p":3,"d":"2018-03-20","v":178.21},{"p":3,"d":"2018-03-25","v":178.32},{"p":3,"d":"2018-03-29","v":178.36},
      {"p":3,"d":"2018-04-09","v":178.3},{"p":3,"d":"2018-04-16","v":178.44},{"p":3,"d":"2018-04-23","v":178.44},{"p":3,"d":"2018-05-01","v":178.32},{"p":3,"d":"2018-05-08","v":178.25},{"p":3,"d":"2018-05-15","v":178.44},{"p":3,"d":"2018-05-19","v":178.7},{"p":3,"d":"2018-05-23","v":178.62},{"p":3,"d":"2018-05-26","v":178.55},{"p":3,"d":"2018-06-01","v":178.29},{"p":3,"d":"2018-06-03","v":178.06},{"p":3,"d":"2018-06-06","v":177.95},{"p":3,"d":"2018-06-14","v":177.84},{"p":3,"d":"2018-06-21","v":177.62},{"p":3,"d":"2018-06-28","v":177.5},{"p":3,"d":"2018-07-03","v":177.41},{"p":3,"d":"2018-07-07","v":177.28},{"p":3,"d":"2018-07-09","v":176.95},{"p":3,"d":"2018-07-13","v":176.83},{"p":3,"d":"2018-07-20","v":176.61},{"p":3,"d":"2018-07-28","v":176.39},
      {"p":3,"d":"2018-08-04","v":176.2},{"p":3,"d":"2018-08-11","v":176.05},{"p":3,"d":"2018-08-14","v":175.96},{"p":3,"d":"2018-08-15","v":176.2},{"p":3,"d":"2018-08-18","v":176.72},{"p":3,"d":"2018-08-20","v":177.1},{"p":3,"d":"2018-08-22","v":177.0},{"p":3,"d":"2018-08-25","v":176.76},{"p":3,"d":"2018-08-27","v":176.42},{"p":3,"d":"2018-08-29","v":176.01},{"p":3,"d":"2018-09-02","v":175.83},{"p":3,"d":"2018-09-06","v":175.75},{"p":3,"d":"2018-09-09","v":175.68},{"p":3,"d":"2018-09-13","v":175.62},{"p":3,"d":"2018-09-21","v":175.51},{"p":3,"d":"2018-09-24","v":175.47},{"p":3,"d":"2018-09-30","v":175.5},{"p":3,"d":"2018-10-02","v":176.2},{"p":3,"d":"2018-10-03","v":176.65},{"p":3,"d":"2018-10-05","v":177.13},{"p":3,"d":"2018-10-07","v":177.39},{"p":3,"d":"2018-10-09","v":177.32},{"p":3,"d":"2018-10-12","v":176.54},{"p":3,"d":"2018-10-14","v":176.35},{"p":3,"d":"2018-10-18","v":176.2},{"p":3,"d":"2018-10-21","v":175.9},{"p":3,"d":"2018-10-23","v":175.75},{"p":3,"d":"2018-10-24","v":176.28},{"p":3,"d":"2018-10-29","v":176.57},{"p":3,"d":"2018-10-30","v":177.69},
      {"p":3,"d":"2018-11-01","v":178.8},{"p":3,"d":"2018-11-03","v":179.18},{"p":3,"d":"2018-11-05","v":179.33},{"p":3,"d":"2018-11-09","v":179.29},{"p":3,"d":"2018-11-14","v":179.37},{"p":3,"d":"2018-11-16","v":179.55},{"p":3,"d":"2018-11-20","v":179.48},{"p":3,"d":"2018-11-24","v":179.29},{"p":3,"d":"2018-11-25","v":179.63},{"p":3,"d":"2018-11-29","v":179.7},{"p":3,"d":"2018-12-03","v":179.59},{"p":3,"d":"2018-12-07","v":179.44},{"p":3,"d":"2018-12-10","v":179.26},{"p":3,"d":"2018-12-12","v":179.66},{"p":3,"d":"2018-12-18","v":179.55},{"p":3,"d":"2018-12-25","v":179.7},{"p":3,"d":"2018-12-30","v":179.76},{"p":3,"d":"2019-01-05","v":179.6},{"p":3,"d":"2019-01-09","v":179.44},{"p":3,"d":"2019-01-12","v":179.18},{"p":3,"d":"2019-01-16","v":178.96},{"p":3,"d":"2019-01-18","v":178.8},{"p":3,"d":"2019-01-21","v":178.4},{"p":3,"d":"2019-01-23","v":179.52},{"p":3,"d":"2019-01-24","v":176.0},{"p":3,"d":"2019-01-26","v":173.6},{"p":3,"d":"2019-01-29","v":173.36},{"p":3,"d":"2019-01-31","v":173.34},{"p":3,"d":"2019-02-02","v":173.9},{"p":3,"d":"2019-02-03","v":174.02},{"p":3,"d":"2019-02-05","v":174.0},{"p":3,"d":"2019-02-07","v":173.78},{"p":3,"d":"2019-02-11","v":173.62},{"p":3,"d":"2019-02-14","v":173.52},{"p":3,"d":"2019-02-17","v":173.36},
      {"p":4,"d":"2019-03-18","v":179.0},{"p":4,"d":"2019-03-23","v":178.96},{"p":4,"d":"2019-03-26","v":178.85},{"p":4,"d":"2019-03-30","v":179.48},{"p":4,"d":"2019-04-06","v":179.5},{"p":4,"d":"2019-04-09","v":179.29},{"p":4,"d":"2019-04-16","v":179.55},{"p":4,"d":"2019-04-23","v":179.59},{"p":4,"d":"2019-04-26","v":179.48},{"p":4,"d":"2019-04-30","v":179.59},{"p":4,"d":"2019-05-06","v":179.53},{"p":4,"d":"2019-05-13","v":179.55},{"p":4,"d":"2019-05-16","v":179.4},{"p":4,"d":"2019-05-19","v":179.07},{"p":4,"d":"2019-05-22","v":179.4},{"p":4,"d":"2019-05-29","v":179.3},{"p":4,"d":"2019-06-01","v":179.26},{"p":4,"d":"2019-06-08","v":179.44},{"p":4,"d":"2019-06-11","v":179.48},{"p":4,"d":"2019-06-18","v":179.29},{"p":4,"d":"2019-06-21","v":179.14},{"p":4,"d":"2019-06-24","v":179.1},{"p":4,"d":"2019-06-28","v":178.92},
      {"p":4,"d":"2019-07-01","v":178.66},{"p":4,"d":"2019-07-08","v":178.36},{"p":4,"d":"2019-07-15","v":178.1},{"p":4,"d":"2019-07-22","v":177.91},{"p":4,"d":"2019-07-29","v":177.69},{"p":4,"d":"2019-08-05","v":177.47},{"p":4,"d":"2019-08-12","v":177.24},{"p":4,"d":"2019-08-15","v":178.8},{"p":4,"d":"2019-08-17","v":178.88},{"p":4,"d":"2019-08-20","v":178.73},{"p":4,"d":"2019-08-23","v":178.44},{"p":4,"d":"2019-08-25","v":177.95},{"p":4,"d":"2019-08-28","v":177.77},{"p":4,"d":"2019-08-30","v":178.17},{"p":4,"d":"2019-09-01","v":178.47},{"p":4,"d":"2019-09-04","v":178.14},{"p":4,"d":"2019-09-06","v":177.77},{"p":4,"d":"2019-09-09","v":177.62},{"p":4,"d":"2019-09-11","v":177.8},{"p":4,"d":"2019-09-13","v":178.62},{"p":4,"d":"2019-09-16","v":178.44},{"p":4,"d":"2019-09-19","v":178.06},{"p":4,"d":"2019-09-21","v":177.69},{"p":4,"d":"2019-09-23","v":177.43},{"p":4,"d":"2019-09-26","v":177.28},{"p":4,"d":"2019-09-29","v":177.17},
      {"p":4,"d":"2019-10-01","v":177.47},{"p":4,"d":"2019-10-03","v":178.36},{"p":4,"d":"2019-10-05","v":178.17},{"p":4,"d":"2019-10-08","v":177.77},{"p":4,"d":"2019-10-10","v":177.58},{"p":4,"d":"2019-10-13","v":177.28},{"p":4,"d":"2019-10-16","v":177.54},{"p":4,"d":"2019-10-18","v":177.58},{"p":4,"d":"2019-10-21","v":177.77},{"p":4,"d":"2019-10-23","v":178.25},{"p":4,"d":"2019-10-25","v":178.66},{"p":4,"d":"2019-10-27","v":178.96},{"p":4,"d":"2019-11-03","v":178.85},{"p":4,"d":"2019-11-06","v":178.77},{"p":4,"d":"2019-11-10","v":178.92},{"p":4,"d":"2019-11-11","v":179.18},{"p":4,"d":"2019-11-18","v":179.26},{"p":4,"d":"2019-11-25","v":179.11},{"p":4,"d":"2019-12-02","v":179.29},{"p":4,"d":"2019-12-05","v":179.33},{"p":4,"d":"2019-12-09","v":179.07},{"p":4,"d":"2019-12-16","v":179.22},{"p":4,"d":"2019-12-19","v":179.07},{"p":4,"d":"2019-12-26","v":179.33},
      {"p":4,"d":"2020-01-05","v":179.26},{"p":4,"d":"2020-01-12","v":179.29},{"p":4,"d":"2020-01-15","v":179.03},{"p":4,"d":"2020-01-19","v":178.88},{"p":4,"d":"2020-01-22","v":179.29},{"p":4,"d":"2020-01-29","v":179.11},{"p":4,"d":"2020-02-05","v":179.18},{"p":4,"d":"2020-02-12","v":179.22},{"p":4,"d":"2020-02-19","v":179.11},{"p":4,"d":"2020-02-22","v":179.29},{"p":4,"d":"2020-02-29","v":179.33},{"p":4,"d":"2020-03-07","v":179.26},{"p":4,"d":"2020-03-14","v":179.14},{"p":4,"d":"2020-03-21","v":179.18},{"p":4,"d":"2020-03-24","v":179.07},{"p":4,"d":"2020-03-28","v":179.22},{"p":4,"d":"2020-04-03","v":178.96},{"p":4,"d":"2020-04-10","v":178.99},{"p":4,"d":"2020-04-14","v":178.88},{"p":4,"d":"2020-04-17","v":178.81},{"p":4,"d":"2020-04-21","v":178.66},{"p":4,"d":"2020-04-24","v":178.62},{"p":4,"d":"2020-04-26","v":178.96},{"p":4,"d":"2020-04-29","v":179.11},
      {"p":4,"d":"2020-05-03","v":178.73},{"p":4,"d":"2020-05-09","v":178.47},{"p":4,"d":"2020-05-13","v":178.4},{"p":4,"d":"2020-05-20","v":178.4},{"p":4,"d":"2020-05-23","v":178.47},{"p":4,"d":"2020-05-27","v":178.4},{"p":4,"d":"2020-05-30","v":178.62},{"p":4,"d":"2020-06-06","v":178.44},{"p":4,"d":"2020-06-09","v":178.25},{"p":4,"d":"2020-06-16","v":178.06},{"p":4,"d":"2020-06-23","v":177.88},{"p":4,"d":"2020-06-30","v":177.73},{"p":4,"d":"2020-07-07","v":177.62},{"p":4,"d":"2020-07-13","v":177.32},{"p":4,"d":"2020-07-20","v":177.06},{"p":4,"d":"2020-07-24","v":176.98}
    ],
    "manual": [
      {"s":"5A - GP - Manual","d":"2016-10-31","v":177.14},{"s":"5A - GP - Manual","d":"2016-11-14","v":173.55},{"s":"5A - GP - Manual","d":"2016-12-03","v":173.5},{"s":"5A - GP - Manual","d":"2017-04-29","v":174.94},{"s":"5A - GP - Manual","d":"2017-05-28","v":174.92},{"s":"5A - GP - Manual","d":"2017-07-09","v":174.38},{"s":"5A - GP - Manual","d":"2017-07-28","v":174.5},{"s":"5A - GP - Manual","d":"2017-10-29","v":174.65},{"s":"5A - GP - Manual","d":"2018-01-15","v":174.81},{"s":"5A - GP - Manual","d":"2018-03-18","v":174.84},{"s":"5A - GP - Manual","d":"2018-07-03","v":174.39},{"s":"5A - GP - Manual","d":"2018-09-16","v":173.92},{"s":"5A - GP - Manual","d":"2018-10-24","v":173.83},{"s":"5A - GP - Manual","d":"2019-01-20","v":174.58},{"s":"5A - GP - Manual","d":"2019-02-17","v":174.54},{"s":"5A - GP - Manual","d":"2019-03-18","v":174.63},{"s":"5A - GP - Manual","d":"2019-10-01","v":173.98},{"s":"5A - GP - Manual","d":"2020-07-24","v":174.03},
      {"s":"5AR - GP - Manual","d":"2017-07-09","v":174.54},{"s":"5AR - GP - Manual","d":"2017-07-28","v":179.1},{"s":"5AR - GP - Manual","d":"2017-10-29","v":179.55},{"s":"5AR - GP - Manual","d":"2018-01-15","v":179.04},{"s":"5AR - GP - Manual","d":"2018-03-18","v":179.58},{"s":"5AR - GP - Manual","d":"2018-07-03","v":178.31},{"s":"5AR - GP - Manual","d":"2018-09-16","v":178.29},{"s":"5AR - GP - Manual","d":"2018-10-24","v":177.54},{"s":"5AR - GP - Manual","d":"2019-01-20","v":178.19},{"s":"5AR - GP - Manual","d":"2019-02-17","v":178.47},{"s":"5AR - GP - Manual","d":"2019-03-18","v":178.61},{"s":"5AR - GP - Manual","d":"2019-10-01","v":177.9},{"s":"5AR - GP - Manual","d":"2020-07-24","v":178.32},
      {"s":"5B - ER - Manual","d":"2016-10-31","v":174.62},{"s":"5B - ER - Manual","d":"2016-11-14","v":174.57},{"s":"5B - ER - Manual","d":"2016-12-03","v":174.64},{"s":"5B - ER - Manual","d":"2017-04-29","v":175.96},{"s":"5B - ER - Manual","d":"2017-05-28","v":175.77},{"s":"5B - ER - Manual","d":"2017-07-08","v":175.64},{"s":"5B - ER - Manual","d":"2017-07-10","v":175.57},{"s":"5B - ER - Manual","d":"2017-07-28","v":175.46},{"s":"5B - ER - Manual","d":"2017-09-11","v":175.72},{"s":"5B - ER - Manual","d":"2017-10-29","v":175.66},{"s":"5B - ER - Manual","d":"2018-01-15","v":175.76},{"s":"5B - ER - Manual","d":"2018-03-18","v":175.8},{"s":"5B - ER - Manual","d":"2018-07-03","v":175.26},{"s":"5B - ER - Manual","d":"2018-09-16","v":174.75},{"s":"5B - ER - Manual","d":"2018-10-24","v":174.81},{"s":"5B - ER - Manual","d":"2019-01-20","v":175.47},{"s":"5B - ER - Manual","d":"2019-02-17","v":175.36},{"s":"5B - ER - Manual","d":"2019-03-18","v":175.68},{"s":"5B - ER - Manual","d":"2019-10-01","v":175.38},{"s":"5B - ER - Manual","d":"2020-07-24","v":175.14},
      {"s":"5OB - OB - Manual","d":"2016-11-14","v":175.12},{"s":"5OB - OB - Manual","d":"2016-12-03","v":175.1},{"s":"5OB - OB - Manual","d":"2017-04-29","v":178.29},{"s":"5OB - OB - Manual","d":"2017-05-28","v":177.6},{"s":"5OB - OB - Manual","d":"2017-07-07","v":176.67},{"s":"5OB - OB - Manual","d":"2017-07-10","v":176.68},{"s":"5OB - OB - Manual","d":"2017-07-28","v":179.0},{"s":"5OB - OB - Manual","d":"2017-07-31","v":177.01},{"s":"5OB - OB - Manual","d":"2017-10-29","v":178.35},{"s":"5OB - OB - Manual","d":"2018-01-15","v":178.88},{"s":"5OB - OB - Manual","d":"2018-03-18","v":179.07},{"s":"5OB - OB - Manual","d":"2018-07-03","v":177.41},{"s":"5OB - OB - Manual","d":"2018-09-16","v":175.64},{"s":"5OB - OB - Manual","d":"2018-10-24","v":175.69},{"s":"5OB - OB - Manual","d":"2019-01-20","v":178.77},{"s":"5OB - OB - Manual","d":"2019-02-17","v":173.36},{"s":"5OB - OB - Manual","d":"2019-03-18","v":178.5},{"s":"5OB - OB - Manual","d":"2019-10-01","v":178.13},{"s":"5OB - OB - Manual","d":"2020-07-24","v":176.96}
    ]
  },
  "encoding": {
    "x": {
      "field": "d", "type": "temporal",
      "scale": {"type": "utc", "domain": [{"year": 2016, "month": 10, "date": 1, "utc": true}, {"year": 2020, "month": 7, "date": 28, "utc": true}]},
      "axis": {
        "title": null, "grid": false,
        "tickCount": {"interval": "month", "step": 1},
        "labelExpr": "utcmonth(datum.value) % 3 === 0 ? utcFormat(datum.value, '%b-%y') : ''",
        "labelOverlap": false, "labelFlush": false,
        "tickSize": {"condition": {"test": "utcmonth(datum.value) % 3 === 0", "value": 9}, "value": 5},
        "tickColor": "black", "tickWidth": 2,
        "domainColor": "black", "domainWidth": 3,
        "labelFontSize": 21, "labelColor": "black", "labelPadding": 12
      }
    },
    "y": {
      "field": "v", "type": "quantitative",
      "scale": {"domain": [170, 181], "nice": false, "zero": false},
      "axis": {
        "title": "Groundwater Elevation (mASL)",
        "values": [170, 172, 174, 176, 178, 180],
        "format": ".1f",
        "grid": true, "gridColor": "black", "gridWidth": 1.3,
        "tickSize": 6, "tickColor": "black", "tickWidth": 1.5,
        "domainColor": "black", "domainWidth": 3,
        "labelFontSize": 21, "labelColor": "black", "labelPadding": 10,
        "titleFontSize": 21, "titleFontWeight": "bold", "titleColor": "black", "titlePadding": 5, "titleY": 456
      }
    }
  },
  "layer": [
    {"data": {"name": "a5"}, "mark": {"type": "line", "color": "#000080", "strokeWidth": 2.75, "clip": true}, "encoding": {"detail": {"field": "p", "type": "nominal"}}},
    {"data": {"name": "ar5"}, "mark": {"type": "line", "color": "#000080", "strokeWidth": 2.75, "clip": true}, "encoding": {"detail": {"field": "p", "type": "nominal"}}},
    {"data": {"name": "b5"}, "mark": {"type": "line", "color": "#339933", "strokeWidth": 2.75, "clip": true}, "encoding": {"detail": {"field": "p", "type": "nominal"}}},
    {"data": {"name": "ob5"}, "mark": {"type": "line", "color": "#FF0000", "strokeWidth": 2.75, "clip": true}, "encoding": {"detail": {"field": "p", "type": "nominal"}}},
    {
      "data": {"name": "manual"},
      "mark": {"type": "point", "filled": true, "opacity": 1, "size": 1600, "strokeWidth": 1.5, "clip": true},
      "encoding": {
        "fill": {
          "field": "s", "type": "nominal",
          "scale": {"domain": ["5A - GP - Logger", "5B - ER - Logger", "5A - GP - Manual", "5B - ER - Manual", "5AR - GP - Logger", "5OB - OB - Logger", "5AR - GP - Manual", "5OB - OB - Manual"],
                    "range": ["#000080", "#339933", "#3366FF", "#CCFFCC", "#000080", "#FF0000", "#FFFFFF", "#FF8080"]},
          "legend": {"title": null, "orient": "none", "legendX": 255, "legendY": 1061, "columns": 4, "gridAlign": "all", "columnPadding": 40, "rowPadding": 19, "symbolOffset": 40, "labelOffset": 21, "padding": 10, "symbolSize": 576, "symbolStrokeWidth": 1.5, "labelFontSize": 21, "labelLimit": 400, "labelColor": "black", "strokeColor": "black", "fillColor": "white"}
        },
        "stroke": {
          "field": "s", "type": "nominal",
          "scale": {"domain": ["5A - GP - Logger", "5B - ER - Logger", "5A - GP - Manual", "5B - ER - Manual", "5AR - GP - Logger", "5OB - OB - Logger", "5AR - GP - Manual", "5OB - OB - Manual"],
                    "range": ["#000080", "#339933", "#000080", "#339933", "#000080", "#FF0000", "#000080", "#800000"]},
          "legend": {"title": null, "orient": "none", "legendX": 255, "legendY": 1061, "columns": 4, "gridAlign": "all", "columnPadding": 40, "rowPadding": 19, "symbolOffset": 40, "labelOffset": 21, "padding": 10, "symbolSize": 576, "symbolStrokeWidth": 1.5, "labelFontSize": 21, "labelLimit": 400, "labelColor": "black", "strokeColor": "black", "fillColor": "white"}
        },
        "shape": {
          "field": "s", "type": "nominal",
          "scale": {"domain": ["5A - GP - Logger", "5B - ER - Logger", "5A - GP - Manual", "5B - ER - Manual", "5AR - GP - Logger", "5OB - OB - Logger", "5AR - GP - Manual", "5OB - OB - Manual"],
                    "range": ["M-2.29,-0.08H2.29V0.08H-2.29Z", "M-2.29,-0.08H2.29V0.08H-2.29Z", "M-0.5,-0.5H0.5V0.5H-0.5Z", "M0,-0.5L0.545,0.41L-0.545,0.41Z", "M-2.29,-0.08H2.29V0.08H-2.29Z", "M-2.29,-0.08H2.29V0.08H-2.29Z", "M-0.5,-0.5H0.5V0.5H-0.5Z", "M0.5,0A0.5,0.5,0,1,1,-0.5,0A0.5,0.5,0,1,1,0.5,0Z"]},
          "legend": {"title": null, "orient": "none", "legendX": 255, "legendY": 1061, "columns": 4, "gridAlign": "all", "columnPadding": 40, "rowPadding": 19, "symbolOffset": 40, "labelOffset": 21, "padding": 10, "symbolSize": 576, "symbolStrokeWidth": 1.5, "labelFontSize": 21, "labelLimit": 400, "labelColor": "black", "strokeColor": "black", "fillColor": "white"}
        }
      }
    }
  ]
}
